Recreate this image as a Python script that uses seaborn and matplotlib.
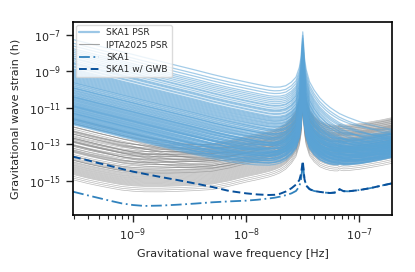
import numpy as np
import pandas as pd
import seaborn as sns
import matplotlib.pyplot as plt
from matplotlib.lines import Line2D
from matplotlib.ticker import FixedLocator, NullLocator, LogLocator, NullFormatter

# frequency nodes (log10 Hz)
log_f = [-9.53, -9.4, -9.3, -9.2, -9.1, -9.0, -8.9, -8.75, -8.6, -8.45,
         -8.3, -8.15, -8.0, -7.9, -7.8, -7.75, -7.7, -7.65, -7.6, -7.56,
         -7.53, -7.515, -7.5, -7.485, -7.47, -7.44, -7.4, -7.35, -7.3, -7.26,
         -7.22, -7.19, -7.175, -7.16, -7.14, -7.1, -7.0, -6.9, -6.8, -6.71]

# red noise part, relative to left edge (decades)
red_shape = [0, -0.20, -0.36, -0.51, -0.67, -0.82, -0.98, -1.21, -1.44, -1.67,
             -1.91, -2.14, -2.37, -2.53, -2.70, -2.79, -2.88, -2.98, -3.08, -3.16,
             -3.22, -3.25, -3.28, -3.31, -3.35, -3.42, -3.52, -3.65, -3.79, -3.90,
             -4.00, -4.08, -4.12, -4.15, -4.20, -4.30, -4.52, -4.72, -4.92, -5.10]

# white noise part, relative to its minimum (decades)
ska_white_shape = [0.78, 0.58, 0.43, 0.28, 0.14, 0.05, 0.0, 0.02, 0.07, 0.13,
                   0.20, 0.26, 0.32, 0.36, 0.40, 0.42, 0.44, 0.46, 0.48, 0.50,
                   0.51, 0.52, 0.52, 0.53, 0.53, 0.55, 0.57, 0.60, 0.63, 0.66,
                   0.70, 0.74, 0.80, 0.79, 0.78, 0.80, 0.88, 0.99, 1.12, 1.24]
ipta_white_shape = [0.65, 0.45, 0.32, 0.20, 0.09, 0.03, 0.0, 0.0, 0.03, 0.07,
                    0.13, 0.30, 0.50, 0.60, 0.70, 0.74, 0.77, 0.80, 0.82, 0.84,
                    0.85, 0.86, 0.86, 0.87, 0.87, 0.88, 0.90, 0.93, 0.97, 1.00,
                    1.04, 1.08, 1.16, 1.14, 1.13, 1.15, 1.24, 1.34, 1.45, 1.57]

# 1/yr sky-position fit spike (decades, multiplicative)
spike = [0, 0, 0, 0, 0, 0, 0, 0, 0, 0,
         0, 0.01, 0.04, 0.07, 0.12, 0.18, 0.28, 0.45, 0.75, 1.1,
         1.7, 2.3, 3.7, 2.3, 1.7, 1.1, 0.75, 0.45, 0.28, 0.18,
         0.11, 0.07, 0.05, 0.04, 0.03, 0.02, 0, 0, 0, 0]

# per-pulsar noise levels (log10)
ska_red = [-7.25, -7.45, -7.6, -7.75, -7.85, -7.95, -8.05, -8.15, -8.25, -8.3,
           -8.4, -8.5, -8.55, -8.6, -8.7, -8.75, -8.85, -8.9, -8.95, -9.0,
           -9.05, -9.1, -9.15, -9.2, -9.25, -9.3, -9.35, -9.4, -9.45, -9.5,
           -9.55, -9.6, -9.62, -9.68, -9.72, -9.78, -9.82, -9.88, -9.92, -9.97,
           -10.02, -10.05, -10.1, -10.14, -10.18, -10.22, -10.27, -10.3, -10.35, -10.38,
           -10.42, -10.46, -10.5, -10.53, -10.57, -10.6, -10.64, -10.68, -10.71, -10.75,
           -10.78, -10.82, -10.85, -10.88, -10.92, -10.95, -10.98, -11.02, -11.05, -11.08,
           -11.12, -11.15, -11.18, -11.21, -11.25, -11.28, -11.31, -11.35, -11.38, -11.42,
           -11.45, -11.48, -11.52, -11.55, -11.58, -11.62, -11.65, -11.68, -11.72, -11.75,
           -11.78, -11.82, -11.85, -11.88, -11.92, -11.6, -11.3, -10.9, -10.4, -9.9]
ska_white = [-13.9, -14.3, -13.6, -14.7, -14.1, -13.8, -14.5, -14.0, -14.9, -13.7,
             -14.2, -14.6, -13.5, -14.4, -14.8, -13.95, -14.25, -14.65, -13.75, -14.05,
             -14.45, -14.85, -13.65, -14.35, -14.75, -13.85, -14.15, -14.55, -14.95, -13.55,
             -14.3, -14.7, -14.0, -14.4, -13.8, -14.6, -14.2, -14.9, -13.7, -14.1,
             -14.5, -14.8, -13.9, -14.3, -14.65, -14.05, -14.45, -13.6, -14.85, -14.25,
             -14.55, -13.95, -14.75, -14.15, -14.35, -13.75, -14.95, -14.0, -14.6, -14.4,
             -13.85, -14.7, -14.2, -14.5, -14.9, -14.1, -13.65, -14.8, -14.3, -14.45,
             -14.0, -14.6, -13.9, -14.75, -14.25, -14.55, -14.85, -14.15, -14.4, -13.8,
             -14.65, -14.95, -14.35, -14.05, -14.7, -14.5, -14.2, -14.9, -14.6, -14.8,
             -14.3, -14.45, -14.75, -14.55, -14.9, -14.1, -14.4, -14.7, -14.2, -14.0]
ipta_red = [-11.6, -11.7, -11.85, -11.95, -12.05, -12.1, -12.2, -12.25, -12.3, -12.4,
            -12.45, -12.5, -12.55, -12.6, -12.7, -12.75, -12.8, -12.85, -12.9, -13.0,
            -13.05, -13.1, -13.2, -13.25, -13.3, -13.4, -13.45, -13.5, -13.6, -13.7,
            -13.8, -13.9, -14.0, -14.1, -14.2, -14.3, -14.4, -14.5, -14.6, -14.7,
            -14.8, -14.9, -15.0, -15.1, -15.2, -15.3, -15.4, -15.5, -15.6, -15.7,
            -15.8, -15.9, -16.0, -16.1, -16.2, -16.3, -16.4, -16.5, -16.5, -16.5,
            -16.5, -16.5, -16.5, -16.5, -16.5, -16.5, -16.5, -16.5, -16.5, -16.5]
ipta_white = [-13.6, -13.3, -13.9, -13.2, -14.1, -13.5, -13.8, -13.15, -14.3, -13.4,
              -13.7, -14.0, -13.25, -13.55, -14.2, -13.35, -13.85, -14.4, -13.1, -13.65,
              -13.95, -14.5, -13.45, -13.75, -14.05, -13.3, -14.25, -13.6, -13.9, -14.35,
              -13.2, -13.5, -14.15, -13.8, -14.45, -13.4, -14.0, -13.7, -14.6, -13.55,
              -14.3, -13.95, -14.1, -14.55, -13.65, -14.2, -13.85, -14.4, -14.65, -14.5,
              -14.0, -14.7, -14.3, -14.8, -14.6, -14.9, -14.45, -15.0, -14.75, -15.1,
              -14.85, -15.2, -14.95, -15.3, -15.05, -15.4, -15.15, -15.5, -15.25, -15.6]

# full array curves (log10 strain)
ska1 = [-15.59, -15.79, -15.94, -16.09, -16.23, -16.32, -16.37, -16.35, -16.30, -16.24,
        -16.17, -16.12, -16.08, -16.03, -15.96, -15.92, -15.86, -15.78, -15.68, -15.55,
        -15.3, -14.9, -14.05, -14.9, -15.25, -15.45, -15.55, -15.6, -15.64, -15.66,
        -15.64, -15.58, -15.45, -15.5, -15.56, -15.57, -15.5, -15.39, -15.25, -15.13]
ska1_gwb = [-13.67, -13.87, -14.03, -14.18, -14.34, -14.49, -14.61, -14.79, -14.96, -15.14,
            -15.33, -15.55, -15.68, -15.74, -15.77, -15.76, -15.7, -15.58, -15.4, -15.2,
            -14.95, -14.6, -13.9, -14.9, -15.25, -15.45, -15.55, -15.6, -15.64, -15.66,
            -15.64, -15.58, -15.45, -15.5, -15.56, -15.57, -15.5, -15.39, -15.25, -15.13]

x_ticks = [1e-9, 1e-8, 1e-7]
y_ticks = [1e-15, 1e-13, 1e-11, 1e-9, 1e-7]


def psr_table(reds, whites, white_shape):
    rows = []
    for i, (r, w) in enumerate(zip(reds, whites)):
        h = (10 ** (r + np.array(red_shape)) + 10 ** (w + np.array(white_shape))) * 10 ** np.array(spike)
        rows.append(pd.DataFrame({'psr': i, 'freq': 10 ** np.array(log_f), 'strain': h}))
    return pd.concat(rows, ignore_index=True)


ska_df = psr_table(ska_red, ska_white, ska_white_shape)
ipta_df = psr_table(ipta_red, ipta_white, ipta_white_shape)
freq = 10 ** np.array(log_f)

sns.set_style("ticks")
plt.rcParams['mathtext.fontset'] = 'cm'
plt.rcParams['font.family'] = ['DejaVu Sans']

ska_col = '#5aa3d6'
dd_style = (0, (6, 2, 1, 2))
fig, ax = plt.subplots(figsize=(4.15, 2.72), dpi=100)
fig.subplots_adjust(left=0.176, right=0.945, top=0.919, bottom=0.21)

sns.lineplot(data=ipta_df, x='freq', y='strain', units='psr', estimator=None,
             color='grey', alpha=0.55, lw=0.5, ax=ax, legend=False)
sns.lineplot(data=ska_df, x='freq', y='strain', units='psr', estimator=None,
             color=ska_col, alpha=0.55, lw=0.9, ax=ax, legend=False)
sns.lineplot(x=freq, y=10 ** np.array(ska1), color='#3182bd', lw=1.3,
             linestyle=dd_style, ax=ax)
sns.lineplot(x=freq, y=10 ** np.array(ska1_gwb), color='#08519c', lw=1.4,
             linestyle=(0, (4, 2)), ax=ax)

ax.set(xscale='log', yscale='log')
ax.set_xlim(10 ** -9.53, 10 ** -6.71)
ax.set_ylim(10 ** -16.86, 10 ** -6.29)
ax.xaxis.set_major_locator(FixedLocator(x_ticks))
ax.yaxis.set_major_locator(FixedLocator(y_ticks))
ax.yaxis.set_minor_locator(NullLocator())
ax.xaxis.set_minor_locator(LogLocator(base=10, subs=np.arange(2, 10)))
ax.xaxis.set_minor_formatter(NullFormatter())
ax.tick_params(which='major', length=5, width=1, labelsize=8, direction='out')
ax.tick_params(which='minor', length=3, width=0.8, direction='out')
for s in ax.spines.values():
    s.set_linewidth(1.2)
    s.set_color('black')

ax.set_xlabel('Gravitational wave frequency [Hz]', fontsize=8)
ax.set_ylabel('Gravitational wave strain (h)', fontsize=8)
ax.yaxis.set_label_coords(-0.165, 0.5)

handles = [Line2D([], [], color=ska_col, alpha=0.6, lw=1.6),
           Line2D([], [], color='grey', alpha=0.7, lw=0.8),
           Line2D([], [], color='#3182bd', lw=1.3, linestyle=dd_style),
           Line2D([], [], color='#08519c', lw=1.4, linestyle=(0, (4, 2)))]
ax.legend(handles, ['SKA1 PSR', 'IPTA2025 PSR', 'SKA1', 'SKA1 w/ GWB'],
          loc='upper left', fontsize=6.5, framealpha=0.8, edgecolor='lightgrey',
          handlelength=2.2, borderaxespad=0.3, labelspacing=0.35)

fig.savefig('out.png', dpi=100)
